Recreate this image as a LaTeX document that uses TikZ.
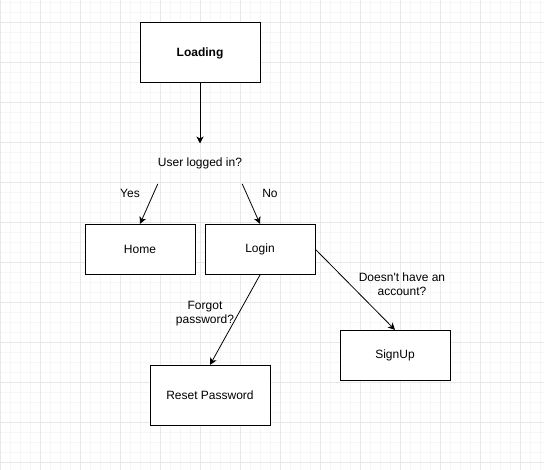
\documentclass[tikz,border=0pt]{standalone}
\usepackage{fontspec}
\setmainfont{Liberation Sans}
\usepackage{xcolor}
\usepackage{tikz}
\usetikzlibrary{arrows.meta,positioning}

\definecolor{gridmajor}{RGB}{232,232,232}
\definecolor{gridminor}{RGB}{246,246,246}

\begin{document}
\begin{tikzpicture}[
        x=1pt, y=-1pt,
        font=\fontsize{12}{14}\selectfont,
        screen/.style={rectangle, draw, line width=1pt, fill=white, minimum width=110pt, minimum height=50pt, align=center},
        bigscreen/.style={screen, minimum width=120pt, minimum height=60pt},
        cond/.style={rectangle, align=center, inner sep=0pt},
        arrow/.style={-{Stealth[length=7pt, width=7pt, inset=2pt]}, line width=0.8pt}
    ]
        \useasboundingbox (0,0) rectangle (544,470);
        \fill[white] (0,0) rectangle (544,470);
        % grid
        \foreach \x in {0,10,...,540} \draw[gridminor, line width=1pt] (\x,0) -- (\x,470);
        \foreach \y in {3,13,...,463} \draw[gridminor, line width=1pt] (0,\y) -- (544,\y);
        \foreach \x in {0,40,...,520} \draw[gridmajor, line width=1pt] (\x,0) -- (\x,470);
        \foreach \y in {23,63,...,463} \draw[gridmajor, line width=1pt] (0,\y) -- (544,\y);

        \node[bigscreen, font=\fontsize{12}{14}\selectfont\bfseries] (loading) at (200,53) {Loading};
        \node[cond, minimum width=80pt, minimum height=40pt, below=60pt of loading] (loggedin) {User logged in?};
        \node[screen, below=40pt of loggedin, xshift=-60pt] (home) {Home};
        \node[screen, below=40pt of loggedin, xshift=60pt] (login) {Login};
        \node[bigscreen, below=90pt of login, xshift=-50pt] (reset) {Reset Password};
        \node[screen, below=55pt of login, xshift=135pt] (signup) {SignUp};

        \node[cond] (yes) at (130,193) {Yes};
        \node[cond] (no) at (270,193) {No};
        \node[cond] (forgot) at (205,314) {Forgot\\password?};
        \node[cond] (noaccount) at (402,284) {Doesn\textquotesingle t have an\\account?};

        \draw[arrow] (loading) -- (loggedin.north);
        \draw[arrow] (loggedin.south west) -- (home.north);
        \draw[arrow] (loggedin.south east) -- (login.north);
        \draw[arrow] (login.south) -- (reset.north);
        \draw[arrow] (login.east) -- (signup.north);
    \end{tikzpicture}
\end{document}
